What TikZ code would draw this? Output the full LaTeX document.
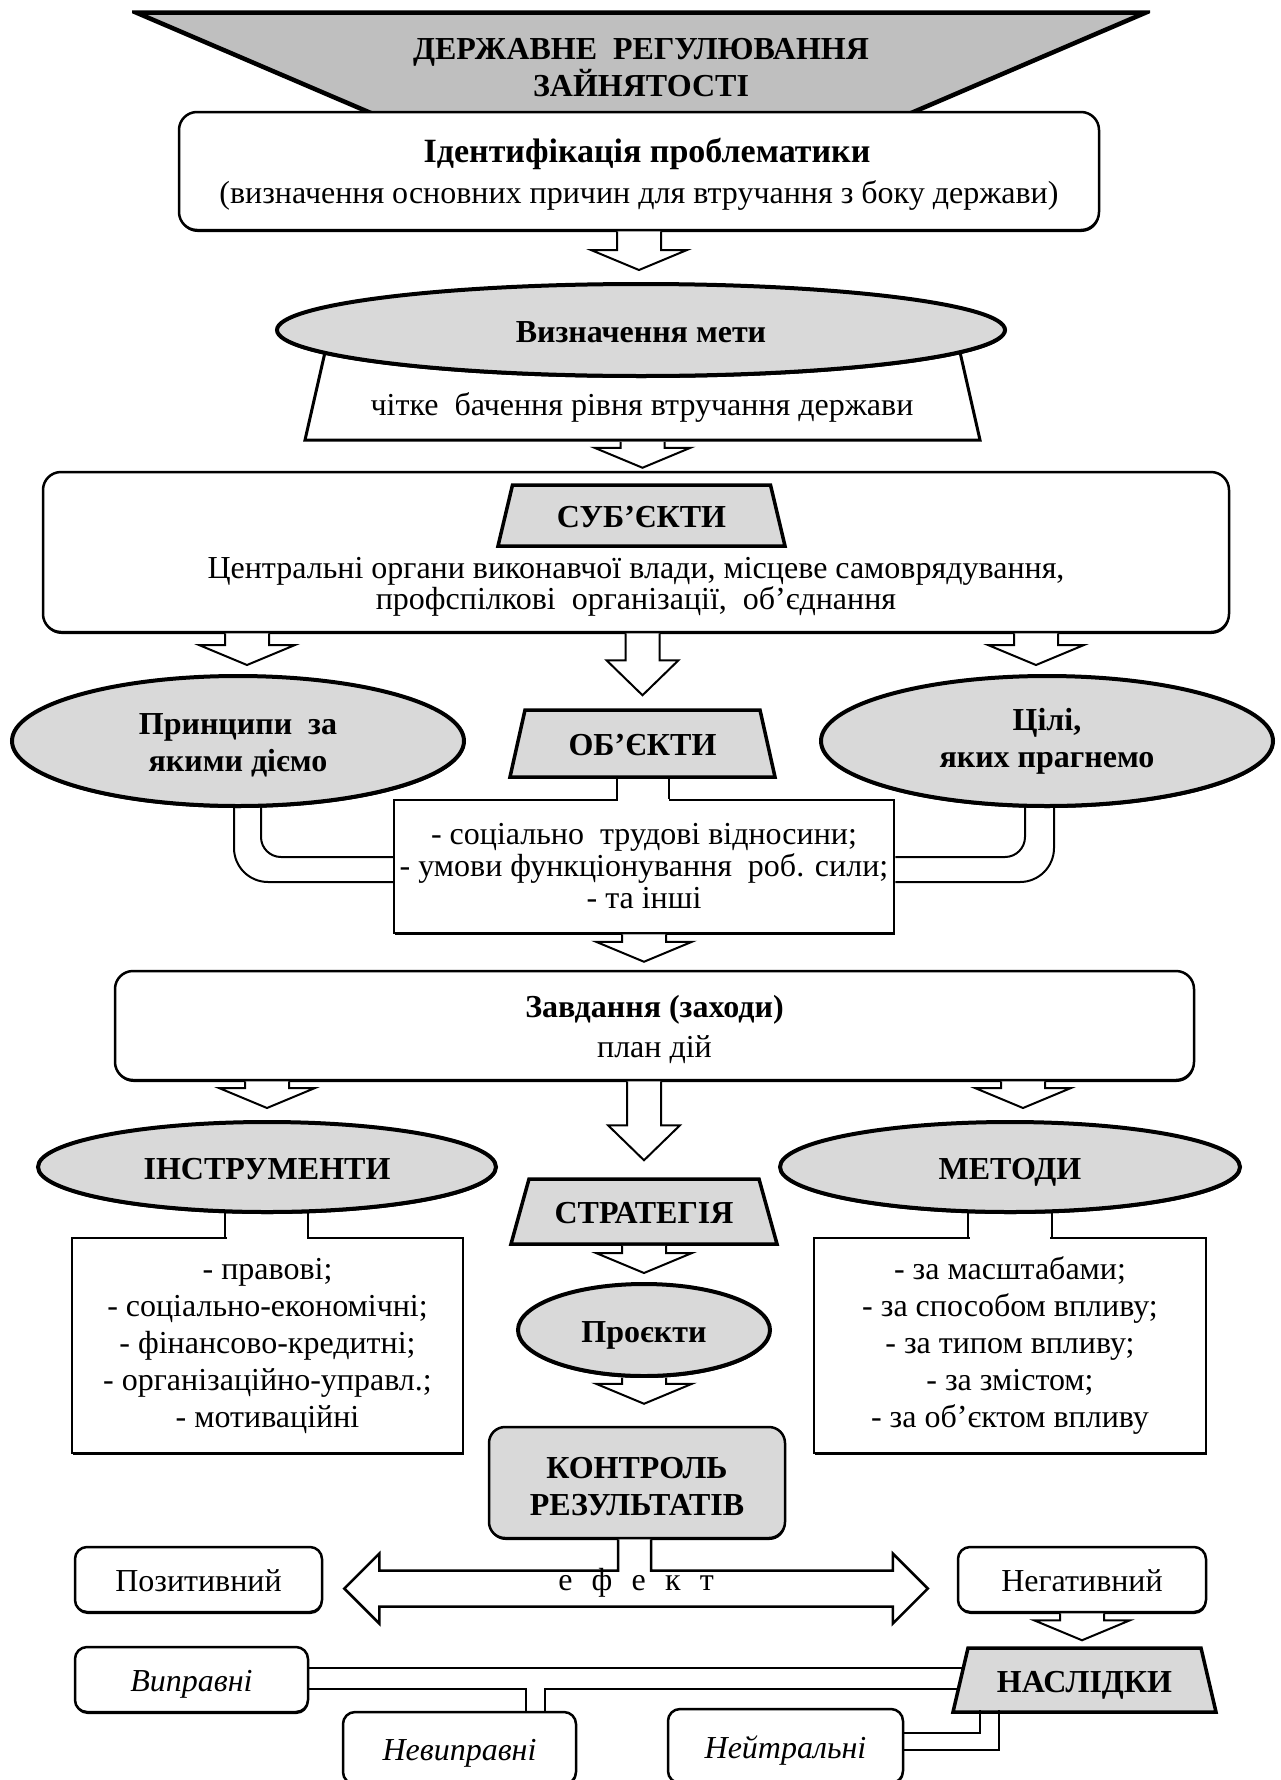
\documentclass[tikz,border=0pt]{standalone}
\usepackage{fontspec}
\setmainfont{Liberation Serif}
\usetikzlibrary{calc,shapes.geometric,shadows}

\definecolor{titlegray}{RGB}{191,191,191}
\definecolor{boxgray}{RGB}{217,217,217}

\newcommand{\basefont}{\fontsize{32}{37}\selectfont}
\newcommand{\topstrut}{\rule{0pt}{30pt}}

% hollow block arrows: #1 start, #2 tip (only its y is used)
\newcommand{\wideArrow}[2]{%
  \draw[blockarrow] let \p1=#1, \p2=#2 in
    (\x1-22pt,\y1) -- (\x1-22pt,\y2+20pt) -- (\x1-48pt,\y2+20pt) -- (\x1,\y2)
    -- (\x1+48pt,\y2+20pt) -- (\x1+22pt,\y2+20pt) -- (\x1+22pt,\y1);}
\newcommand{\longArrow}[2]{%
  \draw[blockarrow] let \p1=#1, \p2=#2 in
    (\x1-17pt,\y1) -- (\x1-17pt,\y2+35pt) -- (\x1-36pt,\y2+35pt) -- (\x1,\y2)
    -- (\x1+36pt,\y2+35pt) -- (\x1+17pt,\y2+35pt) -- (\x1+17pt,\y1);}

\begin{document}
\begin{tikzpicture}[x=1pt,y=-1pt,
font=\basefont,
tins/.store in=\tins, bins/.store in=\bins,
tfill/.store in=\tfill, tlw/.store in=\tlw,
tins=0, bins=0, tfill=boxgray, tlw=3.5pt,
shade/.style={drop shadow={shadow xshift=0.5pt,shadow yshift=-2pt,fill=black,opacity=1}},
oneline/.style={text height=26pt, text depth=2pt},
rbox/.style={
draw,
line width=2.5pt,
rounded corners=#1,
fill=white,
align=center,
inner sep=0pt,
shade
},
rbox/.default=18pt,
sbox/.style={rbox=12pt, minimum height=65pt, oneline},
pbox/.style={draw, line width=2.5pt, fill=white, align=center, inner sep=0pt, shade},
gell/.style={
ellipse,
draw,
line width=4pt,
fill=boxgray,
inner sep=0pt,
align=center,
font=\basefont\bfseries,
shade
},
trapnode/.style={
inner sep=0pt,
outer sep=-2.25pt,
align=center,
font=\basefont\bfseries,
path picture={
\draw[line width=\tlw, fill=\tfill, line join=miter]
($(path picture bounding box.south west)+(4+\bins,-4)$) --
($(path picture bounding box.south east)+(-4-\bins,-4)$) --
($(path picture bounding box.north east)+(-4-\tins,4)$) --
($(path picture bounding box.north west)+(4+\tins,4)$) -- cycle;
}
},
blockarrow/.style={line width=2pt, fill=white},
chan/.style={line width=2pt}
]
\useasboundingbox (0,0) rectangle (1280,1780);

% title and identification
\node[trapnode, bins=236, tfill=titlegray, tlw=4.5pt, minimum width=1018pt, minimum height=109pt] (title) at (641,63) {\topstrut ДЕРЖАВНЕ\ \ РЕГУЛЮВАННЯ\\ЗАЙНЯТОСТІ};
\node[rbox, minimum width=920pt, minimum height=118pt] (ident) at (639,171) {\fontsize{34}{37}\selectfont\topstrut\hspace*{16pt}\textbf{Ідентифікація проблематики}\\[4pt](визначення основних причин для втручання з боку держави)};

% goal
\node[trapnode, tins=20.5, tfill=white, tlw=3pt, minimum width=683pt, minimum height=98pt] (goalbase) at (642.5,395) {};
\node (goaltext) at (642,407) {чітке\ \ бачення рівня втручання держави};
\node[gell, oneline, minimum width=728pt, minimum height=92pt] (goal) at (641,330) {Визначення мети};

% subjects
\node[rbox, minimum width=1186pt, minimum height=160pt] (subjbox) at (636,552) {};
\node[trapnode, oneline, tins=14.5, minimum width=295pt, minimum height=69pt] (subj) at (641.5,515.5) {СУБ’ЄКТИ};
\node[font=\fontsize{32}{31}\selectfont, align=center] (subjtext) at (636,587) {Центральні органи виконавчої влади, місцеве самоврядування,\\профспілкові\ \ організації,\ \ об’єднання};

% principles, objects, aims
\node[gell, minimum width=452pt, minimum height=130pt] (princ) at (238,741) {\topstrut Принципи\ \ за\\якими діємо};
\node[trapnode, oneline, tins=15, minimum width=273pt, minimum height=75pt] (obj) at (642.5,743.5) {ОБ’ЄКТИ};
\node[gell, minimum width=452pt, minimum height=130pt] (aims) at (1047,741) {Цілі,\\яких прагнемо};
\node[pbox, minimum width=500pt, minimum height=133pt, font=\fontsize{32}{32}\selectfont] (objbox) at (644,866.5) {- соціально\ \ трудові відносини;\\- умови функціонування\ \ роб. сили;\\- та інші};

% tasks
\node[rbox, minimum width=1079pt, minimum height=109pt] (zavd) at (654.5,1025.5) {\topstrut\textbf{Завдання (заходи)}\\[3pt]план дій};
\node[gell, oneline, minimum width=458pt, minimum height=90pt] (inst) at (267,1167) {ІНСТРУМЕНТИ};
\node[trapnode, oneline, tins=18, minimum width=274pt, minimum height=73pt] (strat) at (644,1211.5) {СТРАТЕГІЯ};
\node[gell, oneline, minimum width=460pt, minimum height=90pt] (meth) at (1010,1167) {МЕТОДИ};
\node[pbox, minimum width=391pt, minimum height=215pt] (instbox) at (267.5,1345.5) {- правові;\\- соціально-економічні;\\- фінансово-кредитні;\\- організаційно-управл.;\\- мотиваційні};
\node[pbox, minimum width=392pt, minimum height=215pt] (methbox) at (1010,1345.5) {- за масштабами;\\- за способом впливу;\\- за типом впливу;\\- за змістом;\\- за об’єктом впливу};
\node[gell, oneline, minimum width=252pt, minimum height=92pt] (proj) at (644,1330) {Проєкти};

% control and effect
\node[rbox=16pt, fill=boxgray, font=\basefont\bfseries, minimum width=296pt, minimum height=111pt] (control) at (637,1482.5) {\topstrut КОНТРОЛЬ\\РЕЗУЛЬТАТІВ};
\node[sbox, minimum width=247pt] (pos) at (198.5,1579.5) {Позитивний};
\node[sbox, minimum width=248pt] (neg) at (1082,1579.5) {Негативний};

% consequences
\node[trapnode, oneline, tins=15, minimum width=271pt, minimum height=72pt] (nasl) at (1084.5,1680) {НАСЛІДКИ};
\node[sbox, minimum width=233pt, font=\basefont\itshape] (vypr) at (191.5,1679.5) {Виправні};
\node[sbox, minimum width=233pt, minimum height=72pt, font=\basefont\itshape] (nevypr) at (459.5,1748) {Невиправні};
\node[sbox, minimum width=235pt, minimum height=74pt, font=\basefont\itshape] (neutr) at (785.5,1746) {Нейтральні};

% block arrows
\wideArrow{(ident.south)}{([yshift=12pt]goal.north)}
\wideArrow{(goalbase.south)}{([yshift=3pt]subjbox.north)}
\wideArrow{($(princ.north |- subjbox.south)+(9,0)$)}{([yshift=9pt]princ.north)}
\longArrow{(obj.north |- subjbox.south)}{([yshift=13pt]obj.north)}
\wideArrow{($(aims.north |- subjbox.south)+(-11,0)$)}{([yshift=9pt]aims.north)}
\wideArrow{(objbox.south)}{([yshift=8pt]zavd.north)}
\wideArrow{(inst.north |- zavd.south)}{([yshift=12pt]inst.north)}
\longArrow{(strat.north |- zavd.south)}{([yshift=17pt]strat.north)}
\wideArrow{($(meth.north |- zavd.south)+(13,0)$)}{([yshift=12pt]meth.north)}
\wideArrow{(strat.south)}{([yshift=9pt]proj.north)}
\wideArrow{(proj.south)}{([yshift=22pt]control.north)}
\wideArrow{(neg.south)}{([yshift=6pt]nasl.north)}

% objects -> list
\fill[white] ($(obj.south)+(-25,3)$) rectangle ($(objbox.north)+(25,3)$);
\draw[chan] ($(obj.south)+(-26,-1)$) -- ($(obj.south |- objbox.north)+(-26,0)$)
($(obj.south)+(26,-1)$) -- ($(obj.south |- objbox.north)+(26,0)$);

% principles and aims -> list
\draw[chan, rounded corners=34pt] ($(princ.south)+(-4,-2)$) |- ($(objbox.west)+(0,15.5)$);
\draw[chan, rounded corners=20pt] ($(princ.south)+(23,-2)$) |- ($(objbox.west)+(0,-9.5)$);
\draw[chan, rounded corners=34pt] ($(aims.south)+(7,-2)$) |- ($(objbox.east)+(0,15.5)$);
\draw[chan, rounded corners=20pt] ($(aims.south)+(-22,-2)$) |- ($(objbox.east)+(0,-9.5)$);

% instruments and methods -> lists
\fill[white] ($(inst.south)+(-40,3)$) rectangle ($(instbox.north)+(39,3)$);
\draw[chan] ($(inst.south)+(-42,-2)$) -- ($(inst.south |- instbox.north)+(-42,0)$)
($(inst.south)+(41,-2)$) -- ($(inst.south |- instbox.north)+(41,0)$);
\fill[white] ($(meth.south)+(-40,3)$) rectangle ($(methbox.north)+(40,3)$);
\draw[chan] ($(meth.south)+(-42,-2)$) -- ($(meth.south |- methbox.north)+(-42,0)$)
($(meth.south)+(42,-2)$) -- ($(meth.south |- methbox.north)+(42,0)$);

% effect
\coordinate (effL) at ($(pos.east)+(21,9)$);
\coordinate (effR) at ($(neg.west)+(-29,9)$);
\draw[blockarrow, line width=2.5pt] let \p1=(effL), \p2=(effR), \p3=(control.south) in
(\x3-19pt,\y3) -- (\x3-19pt,\y1+18pt) -- (\x1+35pt,\y1+18pt) -- (\x1+35pt,\y1+35pt)
-- (\x1,\y1) -- (\x1+35pt,\y1-35pt) -- (\x1+35pt,\y1-18pt) -- (\x2-35pt,\y1-18pt)
-- (\x2-35pt,\y1-35pt) -- (\x2,\y1) -- (\x2-35pt,\y1+35pt) -- (\x2-35pt,\y1+18pt)
-- (\x3+14pt,\y1+18pt) -- (\x3+14pt,\y3);
\node (efftext) at (636,1583) {е\hspace{0.6em}ф\hspace{0.6em}е\hspace{0.6em}к\hspace{0.6em}т};

% consequences links
\coordinate (naslTL) at ($(nasl.north west)+(16.75,1.75)$);
\coordinate (naslBL) at ($(nasl.south west)+(1.75,-1.75)$);
\coordinate (v1) at ($(vypr.east)+(0,-11.5)$);
\coordinate (v2) at ($(vypr.east)+(0,9.5)$);
\coordinate (n1) at ($(naslTL)!0.31!(naslBL)$);
\coordinate (n2) at ($(naslTL)!0.64!(naslBL)$);
\draw[chan] (v1) -- (v1 -| n1);
\draw[chan] (v2) -| ($(nevypr.north)+(66.5,0)$);
\draw[chan] ($(nevypr.north)+(85.5,0)$) |- (v2 -| n2);
\draw[chan] ($(naslBL)+(27,-2)$) |- ($(neutr.east)+(0,-13)$);
\draw[chan] ($(naslBL)+(46,-2)$) |- ($(neutr.east)+(0,4)$);

\end{tikzpicture}
\end{document}
